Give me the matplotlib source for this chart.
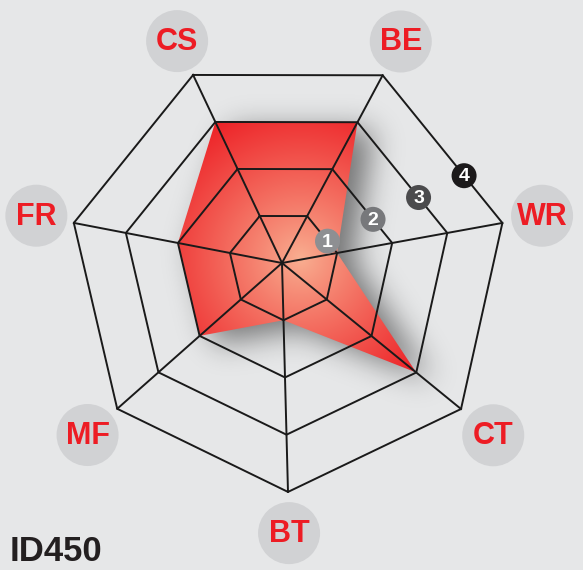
import numpy as np
import matplotlib
matplotlib.use('Agg')
import matplotlib.pyplot as plt
from matplotlib.path import Path
from matplotlib.patches import Polygon, Circle

# data
categories = ['CS', 'BE', 'WR', 'CT', 'BT', 'MF', 'FR']
values = [3, 3, 1, 3, 1, 2, 2]
levels = [1, 2, 3, 4]
title = 'ID450'

# layout of the (slightly skewed) heptagon, pixel units
cx, cy = 282, 263
angles = np.radians([115.3, 61.8, 10.3, -39.2, -88.5, -138.5, 169.1])
lengths = np.array([208, 213, 224, 231, 229, 220, 212])
vmax = 4

def point(i, v):
    r = lengths[i] * v / vmax
    return cx + r * np.cos(angles[i]), cy - r * np.sin(angles[i])

W, H = 583, 570
bg = '#e6e7e8'
fig = plt.figure(figsize=(W / 100, H / 100), dpi=100, facecolor=bg)
ax = fig.add_axes([0, 0, 1, 1])
ax.set_xlim(0, W)
ax.set_ylim(H, 0)
ax.set_facecolor(bg)
ax.axis('off')

n = len(categories)
poly = np.array([point(i, values[i]) for i in range(n)])

# drop shadow: blurred mask of the polygon shifted right
yy, xx = np.mgrid[0:H, 0:W]
pts = np.column_stack([xx.ravel() + 0.5, yy.ravel() + 0.5])
mask = Path(poly + [16, 8]).contains_points(pts).reshape(H, W).astype(float)
sig = 15
ky = np.fft.fftfreq(H)[:, None]
kx = np.fft.fftfreq(W)[None, :]
g = np.exp(-2 * (np.pi * sig) ** 2 * (kx ** 2 + ky ** 2))
blur = np.real(np.fft.ifft2(np.fft.fft2(mask) * g))
blur = np.clip(blur, 0, 1)
shadow = np.zeros((H, W, 4))
shadow[..., 3] = 0.5 * blur
ax.imshow(shadow, extent=(0, W, H, 0), zorder=1, interpolation='bilinear')

# radial gradient fill clipped to the polygon
d = np.hypot(xx - 300, yy - 258) / 165
d = np.clip(d, 0, 1) ** 0.9
c0 = np.array([249, 176, 146]) / 255
c1 = np.array([237, 30, 36]) / 255
grad = c0 + (c1 - c0) * d[..., None]
im = ax.imshow(grad, extent=(0, W, H, 0), zorder=2, interpolation='bilinear')
patch = Polygon(poly, closed=True, facecolor='none', edgecolor='none')
ax.add_patch(patch)
im.set_clip_path(patch)

# grid rings and spokes
for lv in levels:
    ring = np.array([point(i, lv) for i in range(n)] + [point(0, lv)])
    ax.plot(ring[:, 0], ring[:, 1], color='#1a1a1a', lw=1.4, zorder=3)
for i in range(n):
    x, y = point(i, vmax)
    ax.plot([cx, x], [cy, y], color='#1a1a1a', lw=1.4, zorder=3)

# level badges along the BE-WR edge
badge_cols = ['#8e8f92', '#77787b', '#4b4b4d', '#1c1a1b']
t = 0.68
for lv, col in zip(levels, badge_cols):
    x1, y1 = point(1, lv)
    x2, y2 = point(2, lv)
    bx, by = x1 + t * (x2 - x1), y1 + t * (y2 - y1)
    ax.add_patch(Circle((bx, by), 12.5, facecolor=col, edgecolor='none', zorder=5))
    ax.text(bx, by + 1, str(lv), color='white', fontsize=14, fontweight='bold',
            ha='center', va='center', zorder=6, family=['Liberation Sans', 'DejaVu Sans'])

# category labels in grey discs
for i, cat in enumerate(categories):
    x, y = point(i, vmax * 1.18)
    ax.add_patch(Circle((x, y), 31, facecolor='#d1d2d4', edgecolor='none', zorder=4))
    ax.text(x, y + 1, cat, color='#ed1c24', fontsize=22, fontweight='bold',
            ha='center', va='center', zorder=6,
            family=['Liberation Sans Narrow', 'Liberation Sans', 'DejaVu Sans'])

ax.text(10, 561, title, color='#231f20', fontsize=25, fontweight='bold',
        ha='left', va='baseline', family=['Liberation Sans', 'DejaVu Sans'])

fig.savefig('out.png', dpi=100, facecolor=bg)
